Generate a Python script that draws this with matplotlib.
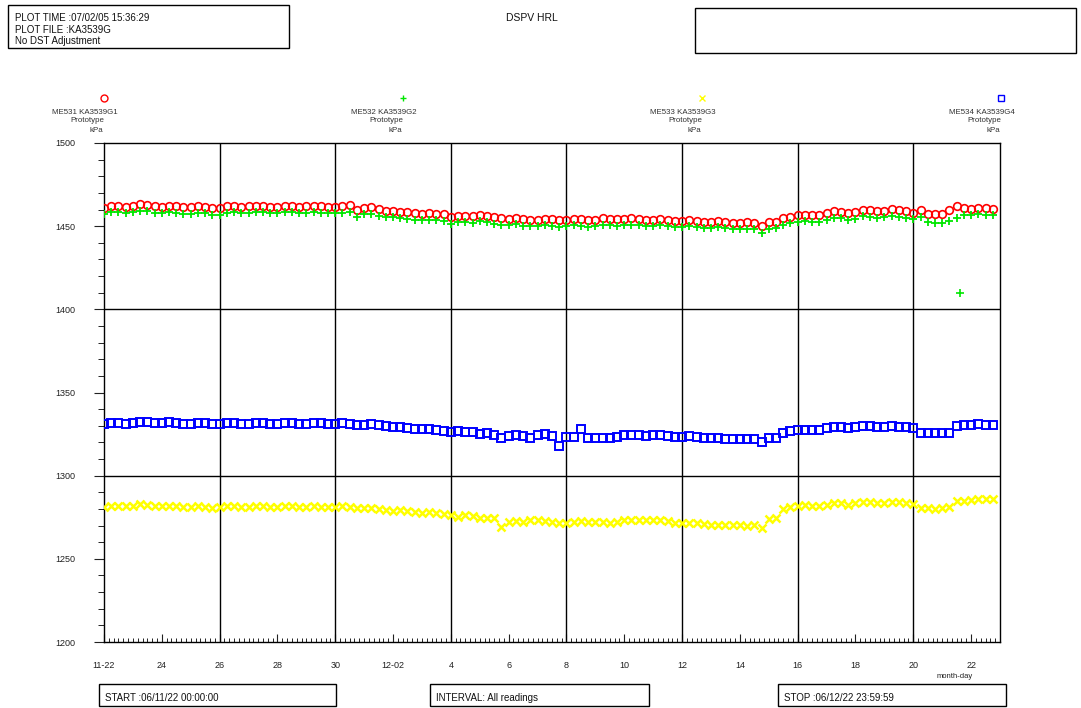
"""
DSPV HRL pressure plot (ME531-ME534, KA3539G1-G4), 11-22 to 12-22.
"""

import matplotlib
matplotlib.use('Agg')
import matplotlib.pyplot as plt
import matplotlib.patches as mpatches
from matplotlib.lines import Line2D
import numpy as np

plt.rcParams['font.family'] = ['Liberation Sans', 'DejaVu Sans']

W, H = 1081, 708

# readings every 6 hours, one row per day starting 11-22 00:00
G1 = [
    1461.2, 1462.4, 1462.3, 1461.8,
    1462.3, 1463.2, 1462.8, 1462.0,
    1461.6, 1462.2, 1461.9, 1461.4,
    1461.5, 1462.0, 1461.6, 1460.9,
    1460.8, 1462.0, 1462.2, 1461.8,
    1462.0, 1462.4, 1462.2, 1461.7,
    1461.8, 1462.3, 1462.2, 1461.8,
    1462.0, 1462.4, 1462.1, 1461.7,
    1461.6, 1462.0, 1462.6, 1459.5,
    1461.2, 1461.4, 1460.2, 1459.3,
    1459.2, 1458.8, 1458.6, 1457.8,
    1457.6, 1457.8, 1457.6, 1457.4,
    1455.6, 1456.4, 1456.4, 1456.2,
    1457.0, 1456.4, 1455.4, 1454.8,
    1454.6, 1455.0, 1454.4, 1454.0,
    1453.8, 1454.4, 1454.2, 1453.6,
    1453.8, 1454.5, 1454.2, 1453.7,
    1454.0, 1454.8, 1454.6, 1454.2,
    1454.4, 1455.0, 1454.6, 1454.0,
    1453.8, 1454.4, 1454.0, 1453.4,
    1453.2, 1453.8, 1453.4, 1452.8,
    1452.6, 1453.2, 1452.8, 1452.2,
    1452.0, 1452.4, 1452.2, 1449.8,
    1452.4, 1452.6, 1455.0, 1455.6,
    1456.6, 1456.9, 1456.8, 1456.6,
    1457.8, 1459.0, 1458.8, 1457.8,
    1458.6, 1460.0, 1459.7, 1459.2,
    1459.4, 1460.2, 1459.8, 1459.0,
    1458.2, 1459.6, 1457.6, 1457.6,
    1457.6, 1459.8, 1462.4, 1460.8,
    1460.6, 1461.2, 1460.9, 1460.5,
]

G2 = [
    1457.4, 1458.5, 1458.6, 1458.0,
    1458.4, 1459.3, 1459.0, 1458.2,
    1457.8, 1458.4, 1458.0, 1457.5,
    1457.6, 1458.2, 1457.7, 1457.0,
    1456.9, 1458.1, 1458.3, 1457.9,
    1458.1, 1458.6, 1458.3, 1457.8,
    1457.9, 1458.4, 1458.3, 1457.9,
    1458.1, 1458.5, 1458.2, 1457.8,
    1457.8, 1458.1, 1458.4, 1455.6,
    1457.2, 1457.5, 1456.3, 1455.4,
    1455.3, 1454.9, 1454.6, 1453.9,
    1453.7, 1453.9, 1453.6, 1453.4,
    1451.6, 1452.5, 1452.4, 1452.2,
    1453.1, 1452.4, 1451.5, 1450.8,
    1450.6, 1451.1, 1450.4, 1450.0,
    1449.8, 1450.5, 1450.2, 1449.6,
    1449.9, 1450.6, 1450.2, 1449.7,
    1450.0, 1450.9, 1450.7, 1450.2,
    1450.5, 1451.0, 1450.6, 1450.0,
    1449.9, 1450.5, 1450.0, 1449.4,
    1449.2, 1449.9, 1449.4, 1448.8,
    1448.6, 1449.3, 1448.8, 1448.2,
    1448.0, 1448.5, 1448.2, 1446.0,
    1448.4, 1448.7, 1451.0, 1451.7,
    1452.6, 1453.0, 1452.8, 1452.6,
    1453.8, 1455.1, 1454.8, 1453.8,
    1454.6, 1456.1, 1455.7, 1455.2,
    1455.4, 1456.3, 1455.8, 1455.0,
    1454.3, 1455.6, 1452.6, 1451.8,
    1451.7, 1453.4, 1455.0, 1456.8,
    1456.6, 1457.3, 1456.9, 1456.5,
]
# single low G2 reading on 12-21
G2_OUT_T = [29.6]
G2_OUT_V = [1409.7]

G3 = [
    1281.0, 1281.6, 1281.8, 1281.5,
    1282.0, 1282.8, 1282.5, 1281.8,
    1281.5, 1282.0, 1281.7, 1281.2,
    1281.2, 1281.8, 1281.4, 1280.6,
    1281.0, 1281.7, 1281.5, 1281.0,
    1281.3, 1281.9, 1281.6, 1281.2,
    1281.2, 1281.8, 1281.5, 1281.0,
    1281.3, 1281.7, 1281.4, 1281.0,
    1281.0, 1281.5, 1281.2, 1280.4,
    1280.3, 1280.6, 1280.0, 1279.4,
    1279.0, 1279.3, 1278.6, 1278.0,
    1277.8, 1278.0, 1277.3, 1276.8,
    1276.4, 1275.0, 1276.3, 1275.5,
    1274.5, 1274.4, 1274.3, 1269.4,
    1272.4, 1272.6, 1272.3, 1273.2,
    1273.4, 1273.0, 1272.4, 1271.5,
    1271.4, 1272.4, 1272.5, 1272.0,
    1272.0, 1272.2, 1271.8, 1272.3,
    1273.4, 1273.6, 1273.2, 1273.4,
    1273.4, 1273.2, 1272.5, 1271.8,
    1271.6, 1271.8, 1271.3, 1270.8,
    1270.6, 1270.4, 1270.5, 1270.2,
    1270.3, 1270.0, 1270.2, 1268.8,
    1274.0, 1274.3, 1280.0, 1281.2,
    1282.0, 1282.2, 1282.0, 1281.8,
    1282.6, 1283.8, 1283.6, 1282.4,
    1283.5, 1284.3, 1284.0, 1283.5,
    1283.8, 1284.2, 1283.9, 1283.5,
    1283.0, 1280.6, 1280.4, 1280.2,
    1280.8, 1281.4, 1284.6, 1285.0,
    1285.5, 1286.0, 1285.8, 1286.2,
]

G4 = [
    1331.0, 1331.8, 1331.6, 1331.2,
    1331.8, 1332.4, 1332.0, 1331.6,
    1331.4, 1332.0, 1331.7, 1331.2,
    1331.2, 1331.8, 1331.4, 1330.8,
    1331.0, 1331.6, 1331.4, 1331.0,
    1331.3, 1331.8, 1331.6, 1331.2,
    1331.2, 1331.7, 1331.5, 1331.1,
    1331.2, 1331.8, 1331.5, 1331.0,
    1331.0, 1331.6, 1331.3, 1330.6,
    1330.4, 1330.8, 1330.3, 1329.6,
    1329.2, 1329.5, 1328.8, 1328.2,
    1327.8, 1328.0, 1327.4, 1327.0,
    1326.5, 1326.8, 1326.4, 1326.5,
    1325.2, 1325.6, 1324.6, 1322.6,
    1324.0, 1324.2, 1323.8, 1322.8,
    1324.6, 1325.0, 1324.0, 1317.6,
    1323.3, 1323.4, 1328.0, 1322.8,
    1322.4, 1322.6, 1322.5, 1323.2,
    1324.2, 1324.6, 1324.4, 1324.0,
    1324.4, 1324.5, 1323.8, 1323.4,
    1323.5, 1323.8, 1323.4, 1322.8,
    1322.4, 1322.6, 1322.3, 1322.0,
    1322.0, 1322.2, 1321.8, 1320.0,
    1322.7, 1322.8, 1325.6, 1326.9,
    1327.4, 1327.6, 1327.5, 1327.3,
    1328.4, 1329.3, 1329.0, 1328.6,
    1329.2, 1329.9, 1329.6, 1329.2,
    1329.3, 1329.8, 1329.4, 1329.0,
    1328.8, 1325.8, 1325.5, 1325.6,
    1325.4, 1325.8, 1329.6, 1330.4,
    1330.6, 1331.0, 1330.7, 1330.5,
]

T = np.arange(len(G1)) * 0.25   # days since 11-22 00:00

SERIES = ['ME531 KA3539G1', 'ME532 KA3539G2', 'ME533 KA3539G3', 'ME534 KA3539G4']
COLORS = ['#ff0000', '#00e600', '#ffff00', '#0000ff']
MARKERS = ['o', '+', 'x', 's']

XTICK_POS = list(range(0, 32, 2))
XTICK_LABELS = ['11-22', '24', '26', '28', '30', '12-02', '4', '6', '8',
                '10', '12', '14', '16', '18', '20', '22']


def fx(x):
    return x / W


def fy(y):
    return 1 - y / H


fig = plt.figure(figsize=(W / 100, H / 100), dpi=100)
ax = fig.add_axes([fx(104), fy(642), fx(1000) - fx(104), fy(143) - fy(642)])

style = dict(linestyle='none', markersize=5.5, zorder=3)
ax.plot(T, G1, marker='o', color=COLORS[0], mfc='none', mew=1.2, **style)
ax.plot(T, G2, marker='+', color=COLORS[1], mew=1.3, **style)
ax.plot(G2_OUT_T, G2_OUT_V, marker='+', color=COLORS[1], mew=1.2, **style)
ax.plot(T, G3, marker='x', color=COLORS[2], mew=1.8, **style)
ax.plot(T, G4, marker='s', color=COLORS[3], mfc='none', mew=1.4, **style)

ax.set_xlim(0, 31)
ax.set_ylim(1200, 1500)

for d in range(4, 31, 4):
    ax.axvline(d, color='black', linewidth=1, zorder=2)
for v in (1300, 1400):
    ax.axhline(v, color='black', linewidth=1, zorder=2)

ax.set_xticks(XTICK_POS)
ax.set_xticklabels(XTICK_LABELS)
ax.set_xticks(np.arange(0, 31.01, 1 / 6), minor=True)
ax.set_yticks(range(1200, 1501, 50))
ax.set_yticks(range(1200, 1501, 10), minor=True)

ax.tick_params(axis='x', which='major', direction='in', length=6, width=0.8,
               pad=14, labelsize=6.5, colors='#222222')
ax.tick_params(axis='x', which='minor', direction='in', length=3, width=0.6)
ax.tick_params(axis='y', which='major', direction='out', length=7, width=0.8,
               pad=14, labelsize=6.5, colors='#222222')
ax.tick_params(axis='y', which='minor', direction='out', length=4, width=0.6)
for s in ax.spines.values():
    s.set_linewidth(1)

fig.text(fx(955), fy(677), 'month-day', fontsize=5.5, ha='center', va='center', color='#222222')

# header: marker + channel description above each quarter of the axis
for i, name in enumerate(SERIES):
    xm = 104 + i * 299
    mk = dict(marker=MARKERS[i], color=COLORS[i], markersize=5, mew=1.0)
    if MARKERS[i] in 'os':
        mk['mfc'] = 'none'
    fig.add_artist(Line2D([fx(xm)], [fy(98)], transform=fig.transFigure, **mk))
    fig.text(fx(xm - 19), fy(112), name, fontsize=5.7, ha='center', va='center', color='#333333')
    fig.text(fx(xm - 17), fy(121), 'Prototype', fontsize=5.7, ha='center', va='center', color='#333333')
    fig.text(fx(xm - 8), fy(130), 'kPa', fontsize=5.7, ha='center', va='center', color='#333333')


def box(x0, y0, x1, y1):
    fig.add_artist(mpatches.Rectangle((fx(x0), fy(y1)), fx(x1) - fx(x0), fy(y0) - fy(y1),
                                      transform=fig.transFigure, fill=False,
                                      edgecolor='black', linewidth=1))


box(8, 5, 289, 48)
box(695, 8, 1076, 53)
box(99, 684, 336, 706)
box(430, 684, 649, 706)
box(778, 684, 1006, 706)

txt = dict(fontsize=7, ha='left', va='center', color='#111111')
fig.text(fx(15), fy(18), 'PLOT TIME :07/02/05 15:36:29', **txt)
fig.text(fx(15), fy(30), 'PLOT FILE :KA3539G', **txt)
fig.text(fx(15), fy(41), 'No DST Adjustment', **txt)
fig.text(fx(532), fy(18), 'DSPV HRL', fontsize=7.5, ha='center', va='center', color='#111111')
fig.text(fx(105), fy(698), 'START :06/11/22 00:00:00', **txt)
fig.text(fx(436), fy(698), 'INTERVAL: All readings', **txt)
fig.text(fx(784), fy(698), 'STOP :06/12/22 23:59:59', **txt)

fig.savefig('out.png', dpi=100)
